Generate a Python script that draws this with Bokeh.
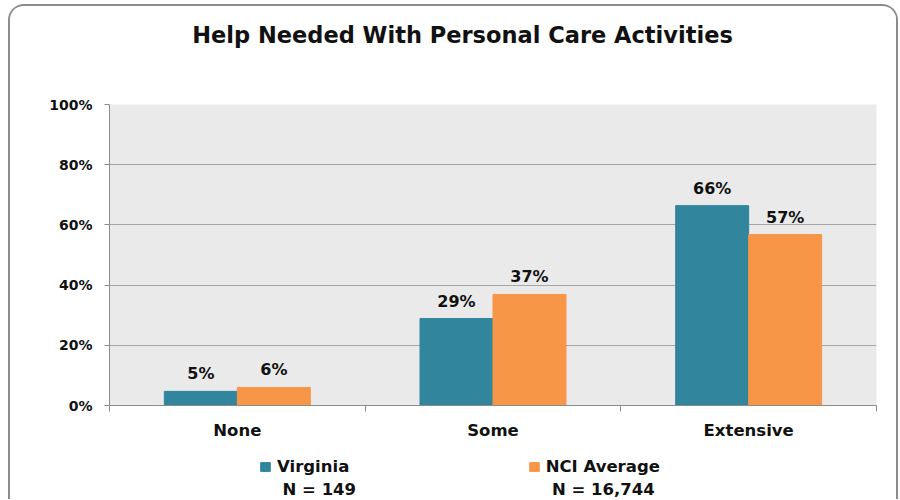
from bokeh.plotting import figure
from bokeh.models import (Range1d, FixedTicker, PrintfTickFormatter, Legend,
                          LegendItem, ColumnDataSource, Label)
from bokeh.layouts import column
from bokeh.embed import file_html
from bokeh.resources import INLINE
from bokeh.core.properties import value
import numpy as np

# ---- data ----
categories = ["None", "Some", "Extensive"]
virginia = [4.7, 28.9, 66.4]
nci_average = [6.0, 36.9, 56.8]
series_names = ["Virginia", "NCI Average"]
sample_sizes = [149, 16744]
y_ticks = [0, 20, 40, 60, 80, 100]
title_text = "Help Needed With Personal Care Activities"

# ---- style ----
FONT = "DejaVu Sans"
TEAL = "#31859C"
ORANGE = "#F79646"
GRID = "#A6A6A6"
AXIS = "#8C8C8C"
TXT = "#111111"
W = 886
FRAME_L, FRAME_R = 109, 876   # page x-extent of the aligned plot frames


def blank(h):
    f = figure(width=W, height=h, output_backend="svg", toolbar_location=None,
               x_range=Range1d(FRAME_L, FRAME_R), y_range=Range1d(h, 0),
               x_axis_location=None, y_axis_location=None,
               min_border=0, outline_line_color=None,
               background_fill_color="white", border_fill_color="white")
    f.xgrid.visible = False
    f.ygrid.visible = False
    return f


# ---- title strip ----
pt = blank(70)
pt.add_layout(Label(x=462, y=28.5, text=title_text, text_align="center",
                    text_baseline="middle", text_font=FONT, text_font_style="bold",
                    text_font_size="22.5px", text_color=TXT))

# ---- main chart ----
centers = np.arange(len(categories)) + 0.5
bw = 0.2855

src = ColumnDataSource(dict(
    x_v=centers - bw / 2,
    x_n=centers + bw / 2,
    v=virginia,
    n=nci_average,
    lv=[f"{round(a)}%" for a in virginia],
    ln=[f"{round(a)}%" for a in nci_average],
))

p = figure(width=W, height=368, output_backend="svg", toolbar_location=None,
           x_range=Range1d(0, len(categories)), y_range=Range1d(0, 100),
           min_border_left=99, min_border_right=20, min_border_top=28, min_border_bottom=39,
           background_fill_color="#EAEAEA", border_fill_color="white",
           outline_line_color=None)

p.vbar(x="x_v", top="v", width=bw, source=src, fill_color=TEAL, line_color=TEAL)
p.vbar(x="x_n", top="n", width=bw, source=src, fill_color=ORANGE, line_color=ORANGE)

for xc, yc, tc in (("x_v", "v", "lv"), ("x_n", "n", "ln")):
    p.text(x=xc, y=yc, text=tc, source=src,
           text_align="center", text_baseline="bottom", y_offset=-8,
           text_font=value(FONT), text_font_style="bold", text_font_size="16px",
           text_color=TXT)

p.xgrid.grid_line_color = None
p.ygrid.ticker = FixedTicker(ticks=y_ticks)
p.ygrid.grid_line_color = GRID
p.ygrid.grid_line_width = 1

p.yaxis.ticker = FixedTicker(ticks=y_ticks)
p.yaxis.formatter = PrintfTickFormatter(format="%d%%")
p.yaxis.major_label_text_font = FONT
p.yaxis.major_label_text_font_style = "bold"
p.yaxis.major_label_text_font_size = "14px"
p.yaxis.major_label_text_color = TXT
p.yaxis.axis_line_color = AXIS
p.yaxis.major_tick_line_color = AXIS
p.yaxis.major_tick_in = 0
p.yaxis.major_tick_out = 5
p.yaxis.minor_tick_line_color = None
p.yaxis.major_label_standoff = 12

p.xaxis.ticker = FixedTicker(ticks=list(centers), minor_ticks=list(range(len(categories) + 1)))
p.xaxis.major_label_overrides = {float(c): cat for c, cat in zip(centers, categories)}
p.xaxis.major_label_text_font = FONT
p.xaxis.major_label_text_font_style = "bold"
p.xaxis.major_label_text_font_size = "16.5px"
p.xaxis.major_label_text_color = TXT
p.xaxis.axis_line_color = AXIS
p.xaxis.major_tick_in = 0
p.xaxis.major_tick_out = 0
p.xaxis.major_tick_line_color = None
p.xaxis.minor_tick_line_color = AXIS
p.xaxis.minor_tick_in = 0
p.xaxis.minor_tick_out = 6
p.xaxis.major_label_standoff = 9

# ---- legend strip ----
pl = blank(55)
swatch_colors = [TEAL, ORANGE]
value_cols = ["v", "n"]
x_cols = ["x_v", "x_n"]
leg_x = [150, 418.7]          # swatch left edge, relative to frame left
n_x = [318.8, 602.8]          # centre of the "N = ..." line
for name, col, xc, vc, lx, nx, n in zip(series_names, swatch_colors, x_cols, value_cols,
                                        leg_x, n_x, sample_sizes):
    r = pl.vbar(x=xc, top=vc, width=bw, source=src, fill_color=col, line_color=col,
                visible=False)
    pl.add_layout(Legend(items=[LegendItem(label=name, renderers=[r])], location=(lx, 23),
                         border_line_color=None, background_fill_alpha=0, padding=0, margin=0,
                         glyph_width=12, glyph_height=11, label_standoff=6, label_height=20,
                         label_text_font=FONT, label_text_font_style="bold",
                         label_text_font_size="16.5px", label_text_color=TXT))
    pl.add_layout(Label(x=nx, y=44.5, text=f"N = {n:,}", text_align="center",
                        text_baseline="middle", text_font=FONT, text_font_style="bold",
                        text_font_size="16.5px", text_color=TXT))

layout = column(pt, p, pl, spacing=0,
                styles={"border": "2px solid #8c8c8c", "border-bottom": "none",
                        "border-radius": "16px 16px 0 0", "overflow": "hidden",
                        "margin-left": "8px", "margin-top": "4px"})

open("out.html", "w").write(file_html(layout, INLINE))
